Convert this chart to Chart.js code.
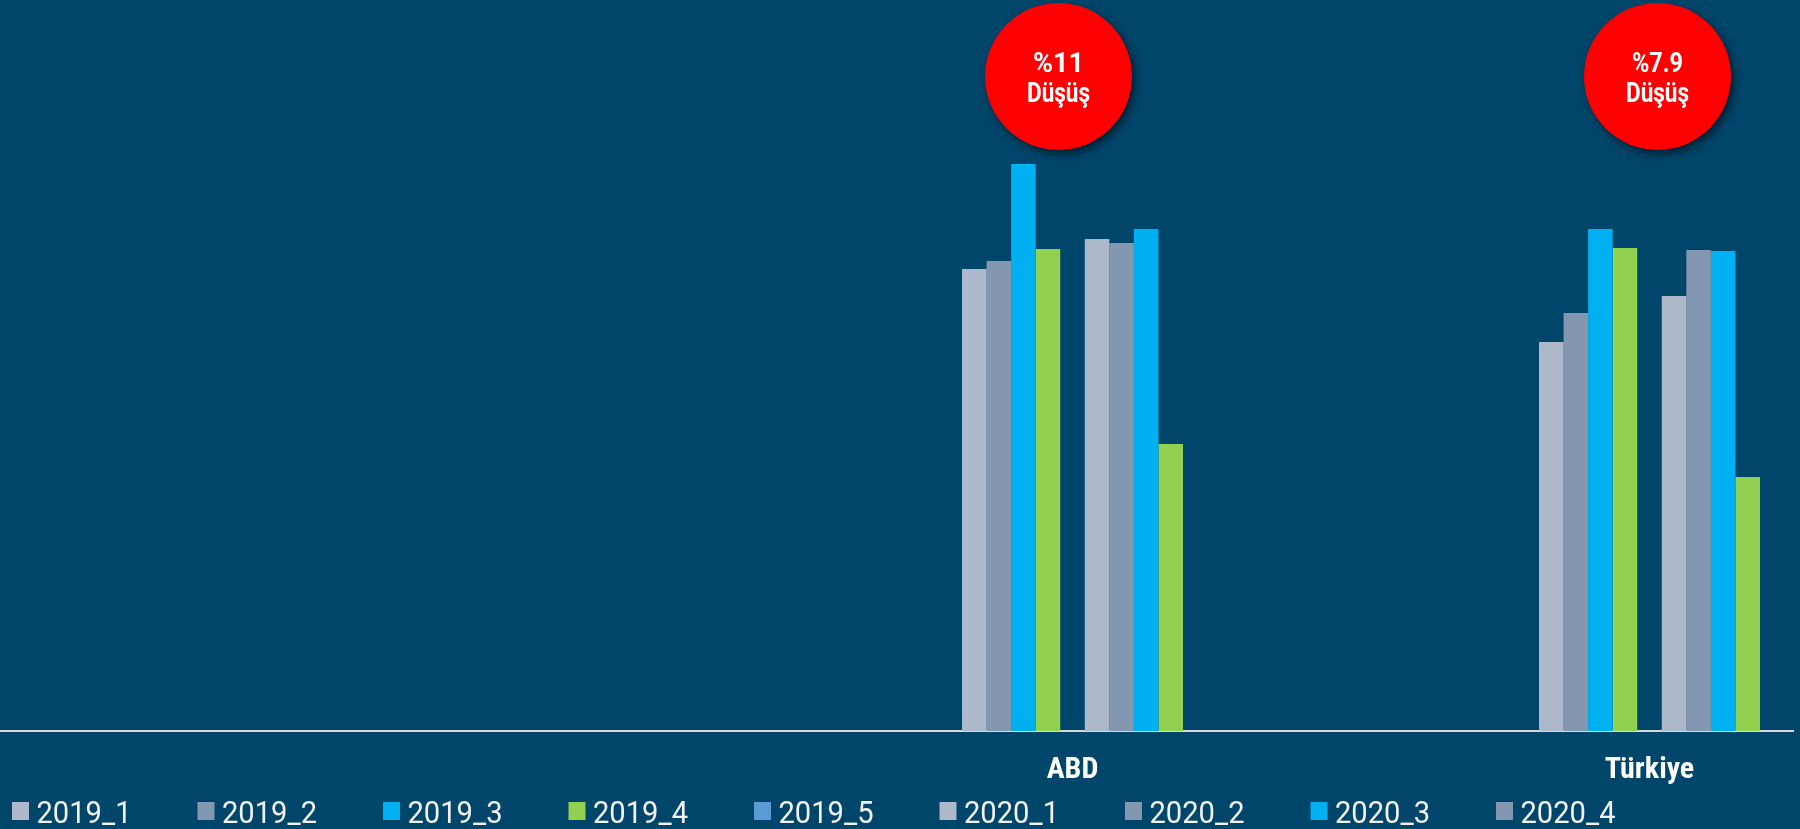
<!DOCTYPE html>
<html lang="tr">
<head>
    <meta charset="UTF-8">
    <title>ABD ve Türkiye - Çeyreklik Karşılaştırma</title>
    <script src="https://cdn.jsdelivr.net/npm/chart.js"></script>
    <style>
        body {
            margin: 0;
            padding: 0;
            background: #00456a;
        }

        #chartContainer {
            width: 1800px;
            height: 829px;
            position: relative;
        }
    </style>
</head>
<body>

    <div id="chartContainer">
        <canvas id="chartCanvas"></canvas>
    </div>

    <script>
        // categories on the x axis
        const categories = ['ABD', 'Türkiye'];

        // series names (legend order)
        const seriesNames = ['2019_1', '2019_2', '2019_3', '2019_4', '2019_5', '2020_1', '2020_2', '2020_3', '2020_4'];

        // values per series, one per category (ABD, Türkiye)
        const s2019_1 = [46.2, 38.9];
        const s2019_2 = [47.0, 41.8];
        const s2019_3 = [56.7, 50.2];
        const s2019_4 = [48.2, 48.3];
        const s2019_5 = [null, null];
        const s2020_1 = [49.2, 43.5];
        const s2020_2 = [48.8, 48.1];
        const s2020_3 = [50.2, 48.0];
        const s2020_4 = [28.7, 25.4];
        const seriesValues = [s2019_1, s2019_2, s2019_3, s2019_4, s2019_5, s2020_1, s2020_2, s2020_3, s2020_4];

        // drop annotations per category
        const dropLabels = ['%11', '%7.9'];
        const dropWord = 'Düşüş';

        const barColors = ['#adb9ca', '#8497b0', '#00b0f0', '#92d050', '#5b9bd5', '#adb9ca', '#8497b0', '#00b0f0', '#92d050'];
        const legendColors = ['#adb9ca', '#8497b0', '#00b0f0', '#92d050', '#5b9bd5', '#adb9ca', '#8497b0', '#00b0f0', '#8497b0'];

        const family = 'Roboto, sans-serif';

        // draw text squeezed horizontally so a sample string gets a given width (narrow look)
        function narrowText(ctx, text, x, y, sample, targetWidth) {
            const sx = targetWidth / ctx.measureText(sample).width;
            ctx.save();
            ctx.translate(x, y);
            ctx.scale(sx, 1);
            ctx.fillText(text, 0, 0);
            ctx.restore();
        }

        // red "drop" circles above each group
        const dropCircles = {
            id: 'dropCircles',
            afterDatasetsDraw(chart) {
                const ctx = chart.ctx;
                const x = chart.scales.x;
                const shift = [-14, 8];
                categories.forEach((c, i) => {
                    const cx = x.getPixelForValue(i + 1) + shift[i];
                    const cy = 76.5;
                    ctx.save();
                    ctx.shadowColor = 'rgba(0, 0, 0, 0.55)';
                    ctx.shadowBlur = 9;
                    ctx.shadowOffsetX = 3;
                    ctx.shadowOffsetY = 4;
                    ctx.beginPath();
                    ctx.arc(cx, cy, 73.5, 0, Math.PI * 2);
                    ctx.fillStyle = '#ff0000';
                    ctx.fill();
                    ctx.restore();

                    ctx.save();
                    ctx.fillStyle = '#ffffff';
                    ctx.textAlign = 'center';
                    ctx.textBaseline = 'alphabetic';
                    ctx.font = 'bold 28px ' + family;
                    narrowText(ctx, dropLabels[i], cx, cy - 5, dropLabels[i], 51);
                    ctx.font = 'bold 27px ' + family;
                    narrowText(ctx, dropWord, cx, cy + 25, dropWord, 63);
                    ctx.restore();
                });
            }
        };

        // legend row along the bottom, left aligned with wide gaps
        const bottomLegend = {
            id: 'bottomLegend',
            afterDraw(chart) {
                const ctx = chart.ctx;
                ctx.save();
                ctx.font = '32px ' + family;
                ctx.textBaseline = 'alphabetic';
                ctx.textAlign = 'left';
                seriesNames.forEach((name, i) => {
                    const x0 = 12 + i * 185.5;
                    ctx.fillStyle = legendColors[i];
                    ctx.fillRect(x0, 802, 17, 18);
                    ctx.fillStyle = '#f2f2f2';
                    narrowText(ctx, name, x0 + 24.5, 823, seriesNames[0], 95);
                });
                ctx.restore();
            }
        };

        const datasets = seriesNames.map((name, s) => ({
            label: name,
            data: seriesValues[s]
                .map((v, i) => ({ x: i + 1, y: v }))
                .filter(p => p.y !== null),
            backgroundColor: barColors[s],
            borderWidth: 0,
            barPercentage: 1,
            categoryPercentage: 0.383
        }));

        const ctx = document.getElementById('chartCanvas').getContext('2d');
        const chart = new Chart(ctx, {
            type: 'bar',
            data: { datasets: datasets },
            options: {
                responsive: true,
                maintainAspectRatio: false,
                animation: false,
                layout: {
                    padding: { left: 0, right: 7, top: 0, bottom: 19 }
                },
                plugins: {
                    legend: { display: false },
                    tooltip: { enabled: false },
                    title: { display: false }
                },
                scales: {
                    x: {
                        type: 'linear',
                        min: -0.8588,
                        max: 2.2487,
                        offset: false,
                        grid: { display: false, drawTicks: false },
                        border: { display: true, color: '#d9d9d9', width: 2 },
                        afterBuildTicks: scale => {
                            scale.ticks = categories.map((c, i) => ({ value: i + 1 }));
                        },
                        ticks: {
                            color: '#ffffff',
                            padding: 23,
                            autoSkip: false,
                            maxRotation: 0,
                            font: { family: family, size: 30, weight: 'bold condensed', lineHeight: 1.1 },
                            callback: value => categories[value - 1] || ''
                        }
                    },
                    y: {
                        display: false,
                        min: 0,
                        max: 73.1
                    }
                }
            },
            plugins: [dropCircles, bottomLegend]
        });
    </script>

</body>
</html>
